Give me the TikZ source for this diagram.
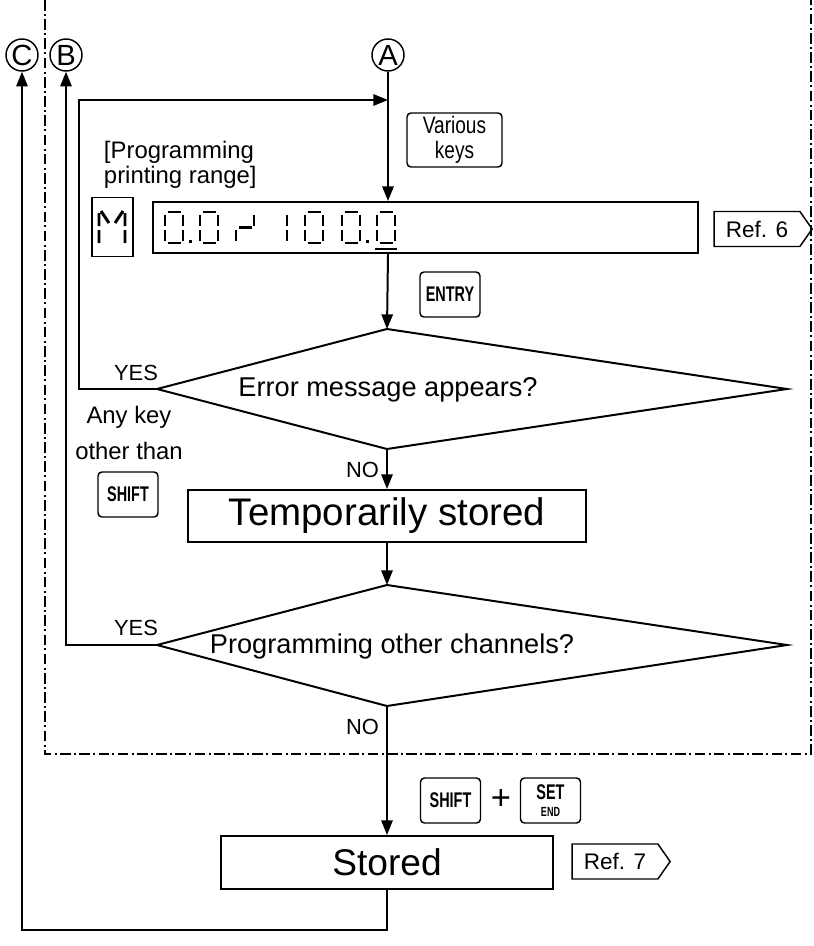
\documentclass[tikz,border=0pt]{standalone}
\usepackage{fontspec}
\setmainfont{Liberation Sans}
\usepackage{graphicx}
\usepackage{tikz}
\usetikzlibrary{arrows.meta,shapes.symbols}
\newcommand\narrow[1]{\scalebox{0.68}[1]{#1}}
\def\px{0.0265cm}
\tikzset{
  pics/dzero/.style={code={\draw[segline] (2.5,0)--(15.5,0) (18,2.5)--(18,13.5) (18,17.5)--(18,28.5) (2.5,31)--(15.5,31) (0,17.5)--(0,28.5) (0,2.5)--(0,13.5);}},
  pics/done/.style={code={\draw[segline] (18,2.5)--(18,13.5) (18,17.5)--(18,28.5);}},
  pics/dtilde/.style={code={\draw[segline] (18,2.5)--(18,13.5) (0,17.5)--(0,28.5) (2.5,15.5)--(15.5,15.5);}},
}
\begin{document}
\begin{tikzpicture}[x=0.0265cm,y=-0.0265cm,line width=1.5pt,
  flow/.style={-{Triangle[length=11pt,width=8.5pt]}},
  box/.style={draw,rectangle,inner sep=0pt},
  circ/.style={draw,circle,inner sep=0pt,minimum size=32*\px,line width=1.1pt,font=\fontsize{22pt}{22pt}\selectfont},
  key/.style={draw,rectangle,rounded corners=3pt,line width=1.1pt,inner sep=0pt,minimum width=60*\px,minimum height=45*\px,align=center,font=\fontsize{16pt}{16pt}\selectfont\bfseries},
  tag/.style={draw,signal,signal to=east,signal pointer angle=110,line width=1.1pt,inner sep=2pt,minimum height=35*\px,minimum width=98*\px,font=\fontsize{17pt}{17pt}\selectfont},
  lbl/.style={inner sep=0pt,font=\fontsize{16.5pt}{16.5pt}\selectfont},
  ques/.style={inner sep=0pt,font=\fontsize{20.5pt}{20.5pt}\selectfont},
  segline/.style={line width=2.2pt},
  frame/.style={line width=1.1pt,dash pattern=on 8pt off 2.5pt on 1.5pt off 2.5pt}]
\useasboundingbox (0,0) rectangle (813,946);

% frame of the programming loop
\draw[frame] (45,0) -- (45,754) -- (811,754) -- (811,0);

% connectors
\node (C) [circ] at (22,55) {C};
\node (B) [circ] at (66,55) {B};
\node (A) [circ] at (388,55) {A};

\node (varkeys) [key,minimum width=95*\px,minimum height=54*\px,font=\fontsize{18pt}{19pt}\selectfont] at (454.5,140) {\scalebox{0.8}[1]{Various}\\\scalebox{0.8}[1]{keys}};
\node (progtxt) [anchor=north west,align=left,inner sep=0pt,font=\fontsize{18pt}{19pt}\selectfont] at (103,140) {[Programming\\printing range]};

% display
\node (mbox) [box,minimum width=41*\px,minimum height=59*\px] at (112.5,227) {};
\draw[segline] (99,213)--(99,226) (99,230)--(99,243) (125,213)--(125,226) (125,230)--(125,243) (101,211)--(109,223) (123,211)--(115,223);
\node (disp) [box,minimum width=545*\px,minimum height=51*\px] at (425.5,227.5) {};
\pic at (165,212) {dzero};
\fill (189,240) rectangle (192,243);
\pic at (200,212) {dzero};
\pic at (236,212) {dtilde};
\pic at (269,212) {done};
\pic at (305,212) {dzero};
\pic at (342,212) {dzero};
\fill (366,240) rectangle (369,243);
\pic at (377,212) {dzero};
\draw[line width=1.3pt] (375,249) -- (397,249);
\node (ref6) [tag] at (757,229) {Ref. 6};

\node (entry) [key] at (450,294.5) {\narrow{ENTRY}};

% first decision
\coordinate (d1t) at (387,329);
\coordinate (d1r) at (787,389);
\coordinate (d1b) at (387,449);
\coordinate (d1l) at (157,389);
\draw (d1t) -- (d1r) -- (d1b) -- (d1l) -- cycle;
\node (q1) [ques] at (388,390) {Error message appears?};
\node (yes1) [lbl] at (136,373) {YES};
\node (anykey) [align=center,inner sep=0pt,font=\fontsize{18pt}{27.8pt}\selectfont] at (129,433) {Any key\\other than};
\node (shiftA) [key] at (128,494.5) {\narrow{SHIFT}};
\node (no1) [lbl,anchor=east] at (380,470) {NO};

\node (temp) [box,minimum width=398*\px,minimum height=52*\px,font=\fontsize{29pt}{29pt}\selectfont] at (387,516) {Temporarily stored};

% second decision
\coordinate (d2t) at (387,585);
\coordinate (d2r) at (787,645);
\coordinate (d2b) at (387,706);
\coordinate (d2l) at (157,645);
\draw (d2t) -- (d2r) -- (d2b) -- (d2l) -- cycle;
\node (q2) [ques] at (392,646) {Programming other channels?};
\node (yes2) [lbl] at (136,628) {YES};
\node (no2) [lbl,anchor=east] at (380,727) {NO};

% storing
\node (shiftB) [key] at (450.5,800.5) {\narrow{SHIFT}};
\node (plus) [inner sep=0pt,font=\fontsize{26pt}{26pt}\selectfont] at (501,800) {+};
\node (setend) [key] at (550.5,800.5) {\narrow{SET}\\[-3pt]{\fontsize{10pt}{10pt}\selectfont\narrow{END}}};
\node (stored) [box,minimum width=332*\px,minimum height=53*\px,font=\fontsize{28pt}{28pt}\selectfont] at (387,862.5) {Stored};
\node (ref7) [tag] at (615,861.5) {Ref. 7};

\coordinate (loopA) at (79,100);
\coordinate (loopC) at (387,930);

\draw[flow] (A) -- (A |- disp.north);
\draw[flow] (A |- disp.south) -- (d1t);
\draw[flow] (d1b) -- (temp);
\draw[flow] (temp) -- (d2t);
\draw[flow] (d2b) -- (stored);
\draw[flow] (d1l) -| (loopA) -- (loopA -| A);
\draw[flow] (d2l) -| (B);
\draw[flow] (stored) -- (loopC) -| (C);
\end{tikzpicture}
\end{document}
